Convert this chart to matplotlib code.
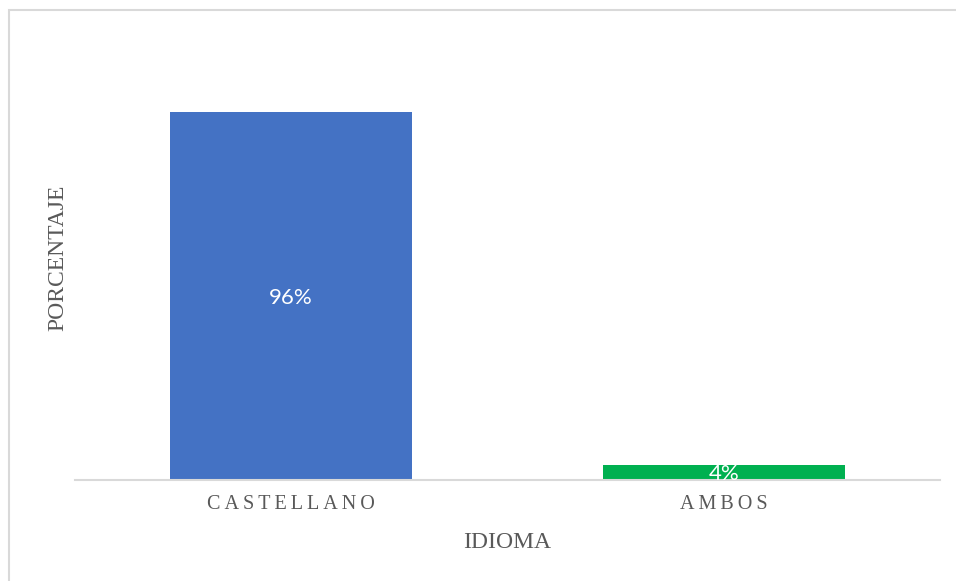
import matplotlib.pyplot as plt
from matplotlib.patches import Rectangle

# idioma data
categorias = ["CASTELLANO", "AMBOS"]
porcentajes = [0.96, 0.04]
colores = ["#4472C4", "#00B050"]
etiquetas = ["96%", "4%"]

W, H = 956, 581
fig = plt.figure(figsize=(W / 100, H / 100), dpi=100)

# chart frame (light grey border)
fig.patches.append(Rectangle((8.5 / W, -0.1), 1.2, 1 - 9.5 / H + 0.1,
                             transform=fig.transFigure, fill=False,
                             edgecolor="#D9D9D9", linewidth=1.5))

ax = fig.add_axes([75 / W, 101 / H, 865 / W, 383.3 / H])
x = range(len(categorias))
bars = ax.bar(x, porcentajes, width=0.56, color=colores)

for b, txt in zip(bars, etiquetas):
    ax.text(b.get_x() + b.get_width() / 2, b.get_height() / 2 - 0.005, txt,
            ha="center", va="center", color="white",
            fontsize=16, family="Lato")

ax.set_xlim(-0.5, 1.5)
ax.set_ylim(0, 1.0)
ax.set_yticks([])
ax.set_xticks(list(x))
# spaced-out capitals for the category names
ax.set_xticklabels(["\u2009".join(c) for c in categorias],
                   family="Liberation Serif", fontsize=14.5, color="#595959")
ax.tick_params(axis="x", length=0, pad=11)
for s in ["top", "right", "left"]:
    ax.spines[s].set_visible(False)
ax.spines["bottom"].set_color("#D9D9D9")
ax.spines["bottom"].set_linewidth(1.5)

fig.text(507.5 / W, 1 - 548 / H, "IDIOMA", ha="center", va="baseline",
         family="Liberation Serif", fontsize=17, color="#595959")
fig.text(63 / W, 1 - 258 / H, "PORCENTAJE", ha="center", va="baseline",
         rotation=90, rotation_mode="anchor", family="Liberation Serif",
         fontsize=17, color="#595959")

fig.savefig("out.png", dpi=100)
